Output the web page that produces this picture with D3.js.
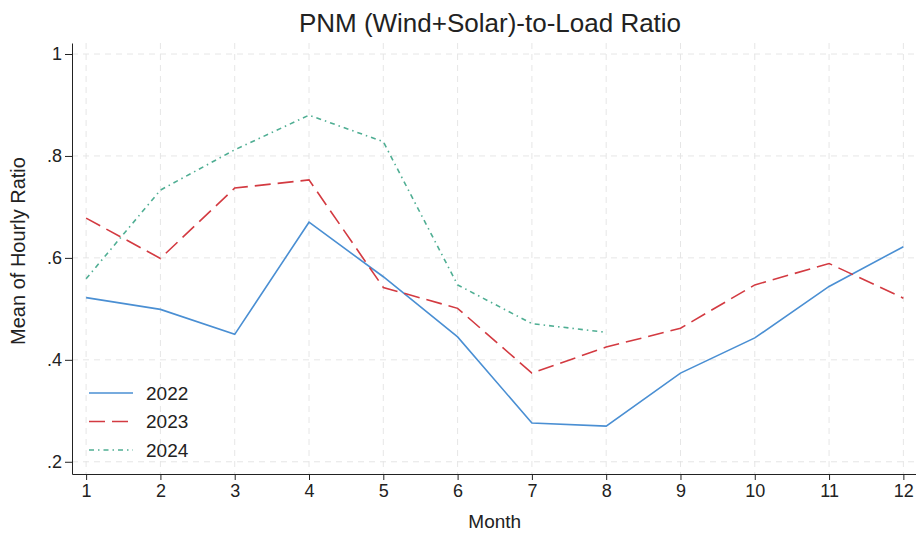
<!DOCTYPE html>
<html>
<head>
<meta charset="utf-8">
<script src="https://cdn.jsdelivr.net/npm/d3@7"></script>
<style>
  body { margin: 0; background: #fff; }
  svg { display: block; font-family: "Liberation Sans", Arial, sans-serif; }
  .grid line { stroke: #e6e6e6; stroke-width: 1; stroke-dasharray: 6,5; }
  .axis path, .axis line { stroke: #222; stroke-width: 1; }
  .axis text { font-size: 18px; fill: #222; }
</style>
</head>
<body>
<div id="plot"></div>
<script>
var months = [1, 2, 3, 4, 5, 6, 7, 8, 9, 10, 11, 12];
var v2022 = [0.522, 0.499, 0.450, 0.670, 0.563, 0.445, 0.276, 0.270, 0.374, 0.443, 0.544, 0.622];
var v2023 = [0.678, 0.599, 0.737, 0.753, 0.542, 0.501, 0.374, 0.425, 0.462, 0.547, 0.589, 0.521];
var v2024 = [0.559, 0.733, 0.812, 0.880, 0.828, 0.547, 0.471, 0.454];
var yTicks = [0.2, 0.4, 0.6, 0.8, 1];
var yTickLabels = [".2", ".4", ".6", ".8", "1"];
var seriesNames = ["2022", "2023", "2024"];

var width = 916, height = 534;
var margin = { top: 43, right: 0, bottom: 60, left: 72 };
var w = width - margin.left - margin.right;
var h = height - margin.top - margin.bottom;

var svg = d3.select("div#plot")
  .append("svg")
    .attr("width", width)
    .attr("height", height);

var g = svg.append("g")
    .attr("transform", "translate(" + margin.left + "," + margin.top + ")");

var xscale = d3.scaleLinear()
  .domain([0.81, 12.17])
  .range([0, w]);

var yscale = d3.scaleLinear()
  .domain([0.176, 1.0216])
  .range([h, 0]);

// grid
g.append("g").attr("class", "grid")
  .selectAll("line").data(months).enter().append("line")
    .attr("x1", function(d) { return xscale(d); })
    .attr("x2", function(d) { return xscale(d); })
    .attr("y1", 0).attr("y2", h);

g.append("g").attr("class", "grid")
  .selectAll("line").data(yTicks).enter().append("line")
    .attr("x1", 0).attr("x2", w)
    .attr("y1", function(d) { return yscale(d); })
    .attr("y2", function(d) { return yscale(d); });

// axes
var xAxis = d3.axisBottom(xscale)
  .tickValues(months)
  .tickSize(6)
  .tickPadding(3)
  .tickSizeOuter(0)
  .tickFormat(d3.format("d"));

var yAxis = d3.axisLeft(yscale)
  .tickValues(yTicks)
  .tickSize(7)
  .tickPadding(3)
  .tickSizeOuter(0)
  .tickFormat(function(d, i) { return yTickLabels[i]; });

g.append("g")
  .attr("class", "x axis")
  .attr("transform", "translate(0," + h + ")")
  .call(xAxis)
  .selectAll("text").attr("dy", "0.8em");

g.append("g")
  .attr("class", "y axis")
  .call(yAxis);

// lines
var series = [
  { name: seriesNames[0], values: v2022, color: "#4a8fd3", dash: null },
  { name: seriesNames[1], values: v2023, color: "#d33a41", dash: "16,7" },
  { name: seriesNames[2], values: v2024, color: "#4fae93", dash: "5,4,1.5,4" }
];

var line = d3.line()
  .x(function(d) { return xscale(d[0]); })
  .y(function(d) { return yscale(d[1]); });

series.forEach(function(s) {
  g.append("path")
    .datum(s.values.map(function(v, i) { return [months[i], v]; }))
    .attr("fill", "none")
    .attr("stroke", s.color)
    .attr("stroke-width", 1.6)
    .attr("stroke-dasharray", s.dash)
    .attr("d", line);
});

// legend
var legend = g.selectAll(".legend")
  .data(series)
  .enter().append("g")
  .attr("class", "legend")
  .attr("transform", function(d, i) { return "translate(17," + (350 + i * 28.5) + ")"; });

legend.append("line")
  .attr("x1", 0).attr("x2", 44)
  .attr("stroke", function(d) { return d.color; })
  .attr("stroke-width", 1.6)
  .attr("stroke-dasharray", function(d) { return d.dash; });

legend.append("text")
  .attr("x", 57)
  .attr("dy", "0.35em")
  .style("font-size", "19px")
  .style("fill", "#222")
  .text(function(d) { return d.name; });

// titles
svg.append("text")
  .attr("x", 490)
  .attr("y", 32)
  .attr("text-anchor", "middle")
  .style("font-size", "26px")
  .style("fill", "#222")
  .text("PNM (Wind+Solar)-to-Load Ratio");

svg.append("text")
  .attr("x", margin.left + xscale(6.5))
  .attr("y", 528)
  .attr("text-anchor", "middle")
  .style("font-size", "19px")
  .style("fill", "#222")
  .text("Month");

svg.append("text")
  .attr("transform", "translate(25," + 251 + ") rotate(-90)")
  .attr("text-anchor", "middle")
  .style("font-size", "20px")
  .style("fill", "#222")
  .text("Mean of Hourly Ratio");
</script>
</body>
</html>
